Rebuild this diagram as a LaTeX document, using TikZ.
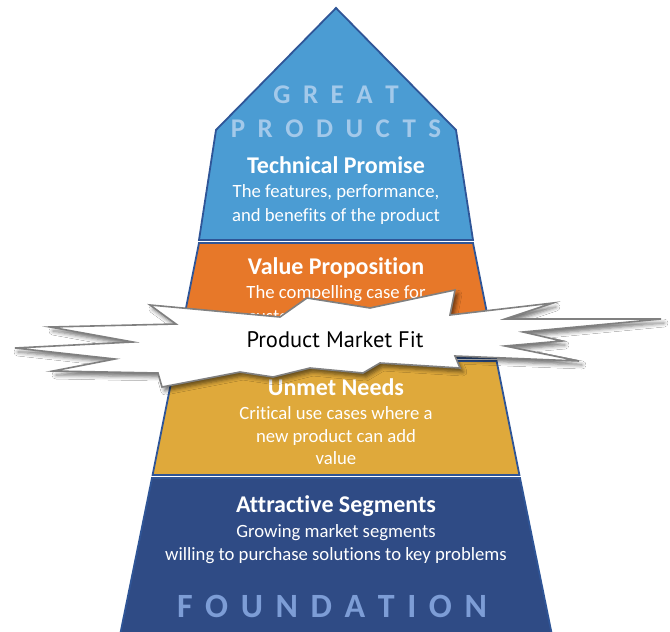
\documentclass[tikz,border=0pt]{standalone}
\usepackage{fontspec}
\setmainfont{Carlito}[Ligatures=NoCommon]
\newfontfamily\pmffont{PT Sans}
\usetikzlibrary{shadows.blur}
\definecolor{lyrblue}{HTML}{4B9CD3}
\definecolor{lyrorange}{HTML}{E77829}
\definecolor{lyryellow}{HTML}{DFA93B}
\definecolor{lyrnavy}{HTML}{2F4B85}
\definecolor{lyredge}{HTML}{2F5597}
\definecolor{greattext}{HTML}{A3C9EA}
\definecolor{foundtext}{HTML}{7D9DD6}
\definecolor{burstedge}{HTML}{808080}
\newcommand\lgap{\kern 12.5pt}
\newcommand\fgap{\kern 12.6pt}
\tikzset{
  layer/.style={draw=lyredge, line width=1.8pt, line join=miter},
  ttl/.style={anchor=base, inner sep=0pt, text=white, font=\fontsize{24}{27}\selectfont\bfseries},
  body/.style={anchor=base, inner sep=0pt, text=white, font=\fontsize{18.7}{23}\selectfont},
  bigword/.style={anchor=base, inner sep=0pt, text=greattext, font=\fontsize{27}{30}\selectfont\bfseries},
  burst/.style={draw=burstedge, fill=white, line width=1.6pt, line join=miter,
    blur shadow={shadow xshift=3pt, shadow yshift=-4pt, shadow blur radius=4pt, shadow opacity=55}}
}
\begin{document}
\begin{tikzpicture}[x=1pt, y=-1pt]
\clip (0,0) rectangle (670,632);
\fill[white] (0,0) rectangle (670,632);
% layers
\draw[layer, fill=lyrblue] (336,8) -- (456,130) -- (473,240) -- (199,240) -- (216,130) -- cycle;
\draw[layer, fill=lyrorange] (199,243) -- (473,243) -- (496,358) -- (176,358) -- cycle;
\draw[layer, fill=lyryellow] (175.4,361) -- (496.6,361) -- (519.4,475) -- (152.6,475) -- cycle;
\draw[layer, fill=lyrnavy] (152,478) -- (520,478) -- (555,650) -- (117,650) -- cycle;
% top label
\node[bigword] (great) at (336,103) {G\lgap R\lgap E\lgap A\lgap T};
\node[bigword] (products) at (336,137) {P\lgap R\lgap O\lgap D\lgap U\lgap C\lgap T\lgap S};
% technical promise
\node[ttl] (tp) at (336,173) {Technical Promise};
\node[body] (tp1) at (336,197) {The features, performance,};
\node[body] (tp2) at (336,221) {and benefits of the product};
% value proposition
\node[ttl] (vp) at (336,274) {Value Proposition};
\node[body] (vp1) at (336,298) {The compelling case for};
\node[body, anchor=base west] (vp2) at (248,322) {customers};
% unmet needs
\node[ttl] (un) at (336,395) {Unmet Needs};
\node[body] (un1) at (336,419) {Critical use cases where a};
\node[body] (un2) at (336,442) {new product can add};
\node[body] (un3) at (336,464) {value};
% attractive segments
\node[ttl] (as) at (336,512) {Attractive Segments};
\node[body] (as1) at (336,537) {Growing market segments};
\node[body] (as2) at (336,560) {willing to purchase solutions to key problems};
\node[anchor=base, inner sep=0pt, text=foundtext, font=\fontsize{34}{36}\selectfont\bfseries] (found) at (332,617) {F\fgap O\fgap U\fgap N\fgap D\fgap A\fgap T\fgap I\fgap O\fgap N};
% starburst
\draw[burst] (15,348) -- (133,342) -- (50,327) -- (176,324) -- (150,305) -- (280,317)
  -- (307,298) -- (370,308) -- (455,290) -- (450,315) -- (553,303) -- (505,319)
  -- (661,319) -- (523,332) -- (562,341) -- (505,346) -- (579,361) -- (455,356)
  -- (460,368) -- (380,363) -- (363,373) -- (310,368) -- (273,377) -- (240,372)
  -- (162,387) -- (158,373) -- (53,371) -- (115,359) -- cycle;
\node[anchor=base, inner sep=0pt, text=black, font=\fontsize{22.5}{24}\selectfont\pmffont] (pmf) at (335,347) {Product Market Fit};
\end{tikzpicture}
\end{document}
